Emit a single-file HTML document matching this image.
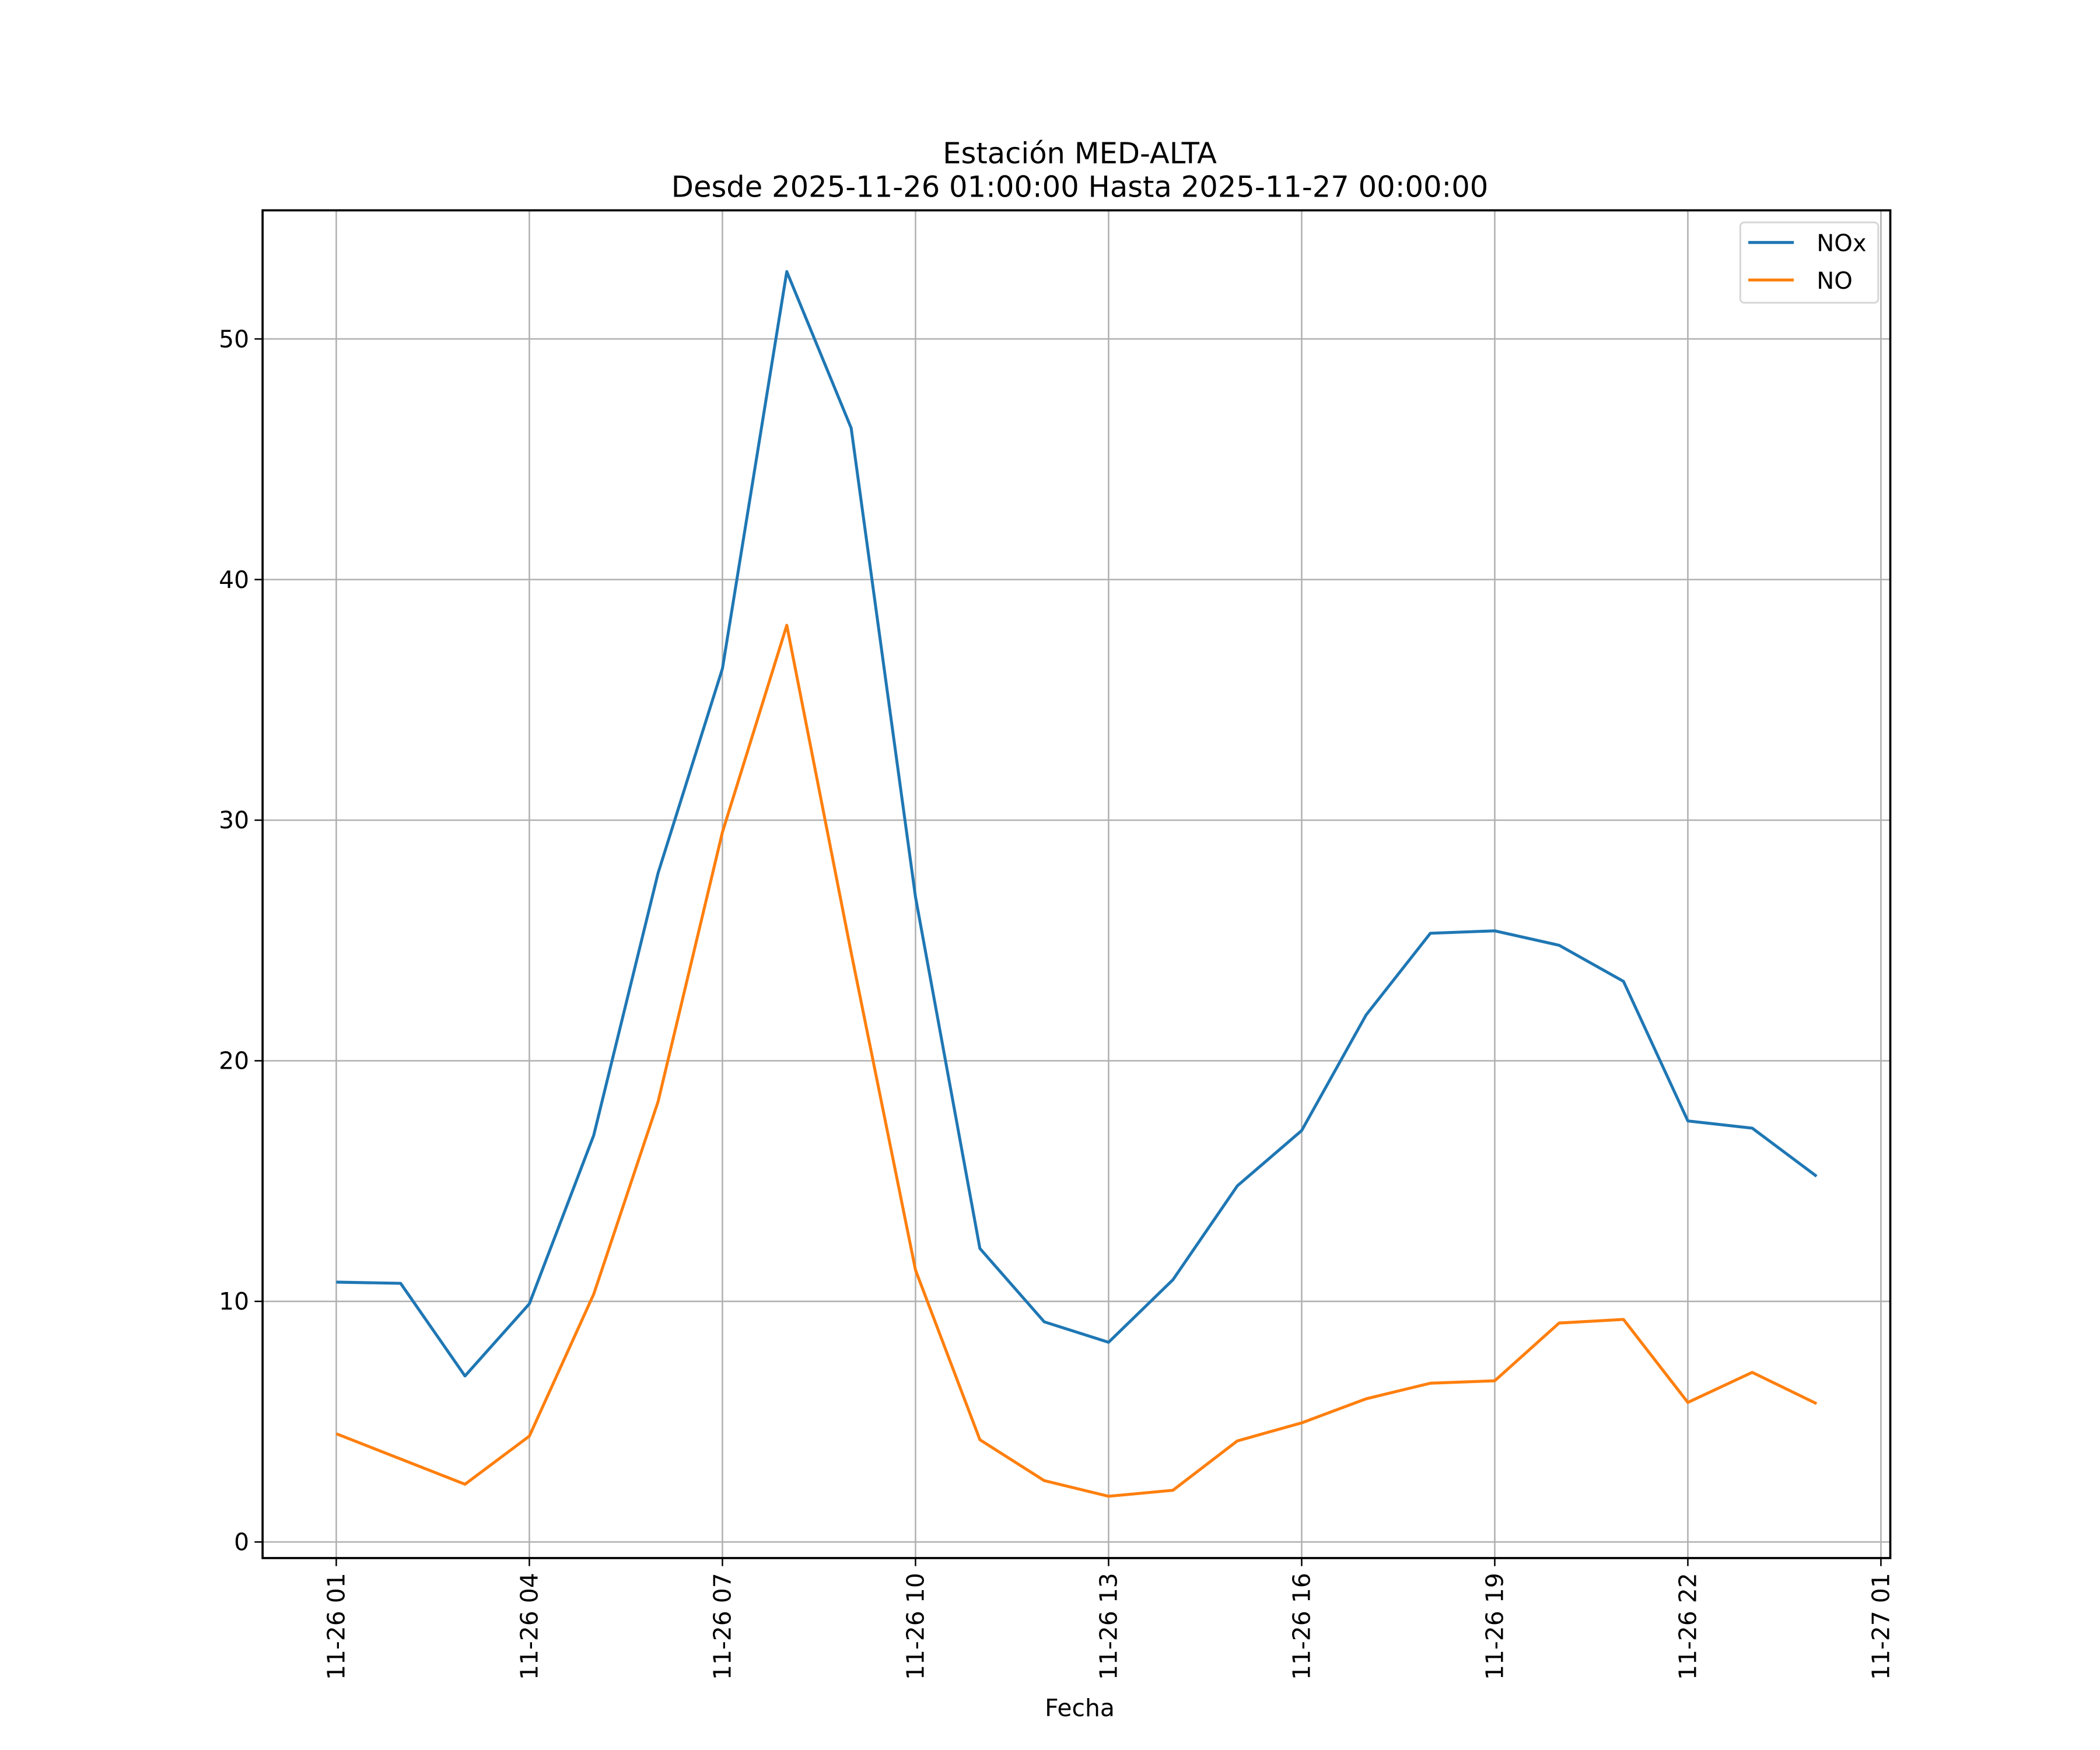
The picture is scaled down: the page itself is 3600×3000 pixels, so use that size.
<!DOCTYPE html>
<html><head><meta charset="utf-8"><style>html,body{margin:0;padding:0;background:#fff}svg{display:block}text{font-family:"DejaVu Sans","Liberation Sans",sans-serif;fill:#000}</style></head>
<body>
<svg id="chart" width="3600" height="3000" viewBox="0 0 1560 1300" preserveAspectRatio="none" xmlns="http://www.w3.org/2000/svg">
<rect width="1560" height="1300" fill="#fff"/>
<g transform="scale(0.9952)">
<text x="806" y="122" font-size="21.6" text-anchor="middle">Estación MED-ALTA</text>
<text x="806" y="147" font-size="21.6" text-anchor="middle">Desde 2025-11-26 01:00:00 Hasta 2025-11-27 00:00:00</text>
<g id="grid"></g>
<g id="series"></g>
<rect x="196" y="157" width="1215" height="1006" fill="none" stroke="#000" stroke-width="1.6"/>
<g id="axes"></g>
<text x="806" y="1281" font-size="17.8" text-anchor="middle">Fecha</text>
<g>
<rect x="1299" y="166" width="103" height="60" rx="3" fill="#fff" fill-opacity="0.8" stroke="#d6d6d6" stroke-width="1.3"/>
<line x1="1305" y1="181" x2="1339" y2="181" stroke="#1f77b4" stroke-width="2.2"/>
<text x="1356" y="187.5" font-size="17.5">NOx</text>
<line x1="1305" y1="209" x2="1339" y2="209" stroke="#ff7f0e" stroke-width="2.2"/>
<text x="1356" y="215.5" font-size="17.5">NO</text>
</g>
</g>
</svg>
<script>
const hours = [1,2,3,4,5,6,7,8,9,10,11,12,13,14,15,16,17,18,19,20,21,22,23,24];
const noxValues = [10.8,10.75,6.9,9.9,16.9,27.8,36.3,52.8,46.3,26.8,12.2,9.15,8.3,10.9,14.8,17.1,21.9,25.3,25.4,24.8,23.3,17.5,17.2,15.2];
const noValues = [4.5,3.45,2.4,4.4,10.3,18.3,29.5,38.1,24.5,11.3,4.25,2.55,1.9,2.15,4.2,4.95,5.95,6.6,6.7,9.1,9.25,5.8,7.05,5.75];
const yTicks = [0,10,20,30,40,50];
const xTickHours = [1,4,7,10,13,16,19,22,25];
const xTickLabels = ["11-26 01","11-26 04","11-26 07","11-26 10","11-26 13","11-26 16","11-26 19","11-26 22","11-27 01"];

const NS = "http://www.w3.org/2000/svg";
function xs(h){ return 251 + (h-1)*(1404-251)/24; }
function ys(v){ return 1151 - v*(1151-253)/50; }
function mk(tag, attrs, parent){ const e=document.createElementNS(NS,tag); for(const k in attrs) e.setAttribute(k,attrs[k]); parent.appendChild(e); return e; }
const grid=document.getElementById('grid'), axes=document.getElementById('axes'), series=document.getElementById('series');

yTicks.forEach(t=>{
  const y=ys(t);
  const g=mk('line',{x1:196,x2:1411,y1:y,y2:y,stroke:'#b0b0b0','stroke-width':1.1},grid);
  
  
  const tk=mk('line',{x1:190,x2:196,y1:y,y2:y,stroke:'#000','stroke-width':1.1},axes);
  
  
  const tx=mk('text',{x:186,y:y+6.2,'font-size':17.8,'text-anchor':'end'},axes);
  tx.textContent=t;
  
  
});
xTickHours.forEach((h,i)=>{
  const x=xs(h);
  const g=mk('line',{x1:x,x2:x,y1:157,y2:1163,stroke:'#b0b0b0','stroke-width':1.1},grid);
  
  
  const tk=mk('line',{x1:x,x2:x,y1:1163,y2:1169,stroke:'#000','stroke-width':1.1},axes);
  
  
  const tx=mk('text',{x:0,y:0,'font-size':17.8,'text-anchor':'end',transform:`translate(${x+6.2},1174) rotate(-90)`},axes);
  tx.textContent=xTickLabels[i];
  
  
});
function line(vals,color,name){
  const pts=vals.map((v,i)=>xs(hours[i]).toFixed(2)+','+ys(v).toFixed(2)).join(' ');
  const p=mk('polyline',{points:pts,fill:'none',stroke:color,'stroke-width':2.2,'stroke-linejoin':'round'},series);
  
  
}
line(noxValues,'#1f77b4','nox-line');
line(noValues,'#ff7f0e','no-line');
</script>
</body></html>
